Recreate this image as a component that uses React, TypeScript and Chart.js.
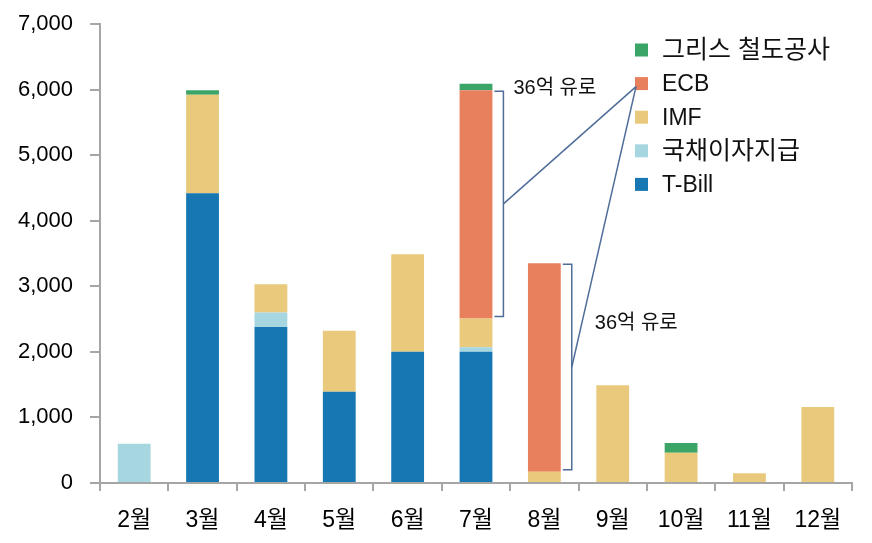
import React, { useEffect, useRef } from "react";
import { Chart, registerables } from "chart.js";

Chart.register(...registerables);

const months = ["2월", "3월", "4월", "5월", "6월", "7월", "8월", "9월", "10월", "11월", "12월"];
const tBill = [0, 4420, 2380, 1390, 2000, 2000, 0, 0, 0, 0, 0];
const govInterest = [600, 0, 220, 0, 0, 70, 0, 0, 0, 0, 0];
const imf = [0, 1500, 430, 930, 1490, 440, 170, 1490, 460, 150, 1160];
const ecb = [0, 0, 0, 0, 0, 3480, 3180, 0, 0, 0, 0];
const greekRail = [0, 70, 0, 0, 0, 100, 0, 0, 150, 0, 0];
const yTicks = [0, 1000, 2000, 3000, 4000, 5000, 6000, 7000];
const legendOrder = ["그리스 철도공사", "ECB", "IMF", "국채이자지급", "T-Bill"];
const annotationText = "36억 유로";
const bracketMonths = ["7월", "8월"];

const COLORS: Record<string, string> = {
  "T-Bill": "#1677b3",
  "국채이자지급": "#a6d6df",
  "IMF": "#e9c97c",
  "ECB": "#e8805d",
  "그리스 철도공사": "#3aa566",
};

const FONT = "'Liberation Sans', 'Noto Sans CJK KR', sans-serif";
const LINE = "#4f6d98";

const overlayPlugin = {
  id: "overlay",
  afterDraw(chart: any) {
    const ctx = chart.ctx;
    ctx.save();
    const lx = 635;
    const ly0 = 50;
    const step = 33.6;
    ctx.textBaseline = "middle";
    ctx.textAlign = "left";
    legendOrder.forEach((name, i) => {
      const cy = ly0 + i * step;
      ctx.fillStyle = COLORS[name];
      ctx.fillRect(lx, cy - 6.5, 13, 13);
      ctx.fillStyle = "#111";
      const hangul = /[\uac00-\ud7a3]/.test(name);
      ctx.font = `${hangul ? 25 : 23}px ${FONT}`;
      ctx.fillText(name, 662, cy + 1);
    });
    const ecbMarker = { x: lx + 1, y: ly0 + step + 3 };

    const ecbIdx = chart.data.datasets.findIndex((d: any) => d.label === "ECB");
    const meta = chart.getDatasetMeta(ecbIdx);
    ctx.strokeStyle = LINE;
    ctx.lineWidth = 1.5;
    ctx.font = `20px ${FONT}`;
    ctx.fillStyle = "#111";
    bracketMonths.forEach((m, k) => {
      const idx = months.indexOf(m);
      const bar = meta.data[idx];
      const right = bar.x + bar.width / 2;
      const bx = right + 11;
      const top = bar.y + 1;
      const bottom = bar.base - 2;
      ctx.beginPath();
      ctx.moveTo(right + 2, top);
      ctx.lineTo(bx, top);
      ctx.lineTo(bx, bottom);
      ctx.lineTo(right + 2, bottom);
      ctx.stroke();
      const mid = (top + bottom) / 2;
      ctx.beginPath();
      ctx.moveTo(bx, mid);
      ctx.lineTo(ecbMarker.x, ecbMarker.y);
      ctx.stroke();
      ctx.textBaseline = "middle";
      if (k === 0) ctx.fillText(annotationText, bx + 10, top - 3);
      else ctx.fillText(annotationText, bx + 23, mid - 44);
    });
    ctx.restore();
  },
};

export default function App() {
  const ref = useRef<HTMLCanvasElement>(null);
  useEffect(() => {
    const series: [string, number[]][] = [
      ["T-Bill", tBill],
      ["국채이자지급", govInterest],
      ["IMF", imf],
      ["ECB", ecb],
      ["그리스 철도공사", greekRail],
    ];
    const chart = new Chart(ref.current!, {
      type: "bar",
      data: {
        labels: months,
        datasets: series.map(([label, data]) => ({
          label,
          data,
          backgroundColor: COLORS[label],
          borderWidth: 0,
          barPercentage: 0.48,
          categoryPercentage: 1,
        })),
      },
      options: {
        responsive: false,
        animation: false,
        layout: { padding: { top: 24, right: 20, left: 0, bottom: 0 } },
        plugins: { legend: { display: false }, tooltip: { enabled: false } },
        scales: {
          x: {
            stacked: true,
            grid: { drawOnChartArea: false, drawTicks: true, tickLength: 8, color: "#a6a6a6", lineWidth: 2 },
            border: { display: true, color: "#a6a6a6", width: 2 },
            ticks: { font: { size: 23, family: FONT }, color: "#000", padding: 16 },
            afterFit: (s: any) => { s.height = 60; },
          },
          y: {
            stacked: true,
            min: 0,
            max: 7000,
            afterBuildTicks: (s: any) => { s.ticks = yTicks.map((v) => ({ value: v })); },
            grid: { drawOnChartArea: false, drawTicks: true, tickLength: 10, color: "#a6a6a6", lineWidth: 2 },
            border: { display: true, color: "#a6a6a6", width: 2 },
            ticks: {
              font: { size: 22, family: FONT, lineHeight: 0.6 },
              color: "#000",
              padding: 17,
              callback: (v: any) => Number(v).toLocaleString("en-US"),
            },
            afterFit: (s: any) => { s.width = 100; },
          },
        },
      },
      plugins: [overlayPlugin],
    });
    return () => chart.destroy();
  }, []);
  return (
    <div style={{ position: "absolute", left: 0, top: 0, width: 872, height: 543, background: "#fff" }}>
      <canvas ref={ref} width={872} height={543} />
    </div>
  );
}
